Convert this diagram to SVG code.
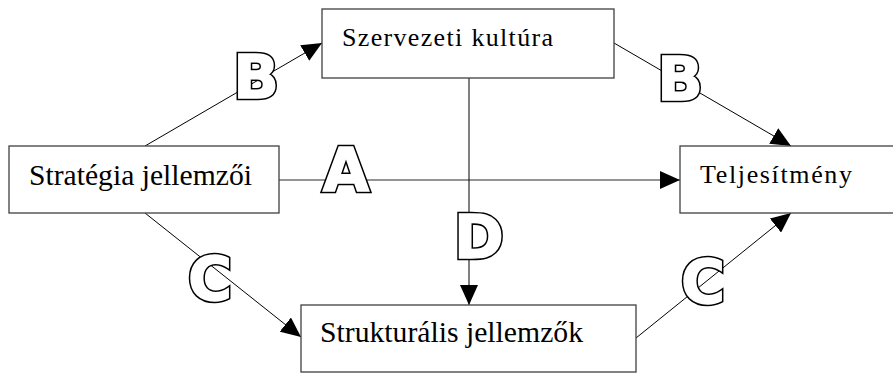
<svg xmlns="http://www.w3.org/2000/svg" width="893" height="374" viewBox="0 0 893 374">
<style>
.box{fill:#fff;stroke:#404040;stroke-width:1.3}
.lbl{font-family:"Liberation Serif","Times New Roman",serif;fill:#000}
.conn{stroke:#000;stroke-width:1;fill:none}
.letter{font-family:"DejaVu Sans","Liberation Sans",sans-serif;font-weight:bold;font-size:60px;text-anchor:middle;stroke-linejoin:miter}
.outer{fill:#000;stroke:#000;stroke-width:4.5}
.inner{fill:#fff;stroke:#fff;stroke-width:1.4}
</style>
<defs>
<marker id="arr" markerUnits="userSpaceOnUse" markerWidth="20" markerHeight="18" viewBox="0 0 20 18" refX="20" refY="9" orient="auto">
<path d="M0,0 L20,9 L0,18 Z" fill="#000"/>
</marker>
</defs>
<g id="connectors">
<line class="conn" x1="145" y1="146" x2="322" y2="43" marker-end="url(#arr)"/>
<line class="conn" x1="614" y1="43" x2="791" y2="146" marker-end="url(#arr)"/>
<line class="conn" x1="279" y1="180" x2="680" y2="180" style="stroke:#707070;stroke-width:1.6" marker-end="url(#arr)"/>
<line class="conn" x1="145" y1="213" x2="301" y2="337" marker-end="url(#arr)"/>
<line class="conn" x1="636" y1="338" x2="791" y2="213" marker-end="url(#arr)"/>
<line class="conn" x1="469" y1="78" x2="469" y2="305" marker-end="url(#arr)"/>
</g>
<g id="szervezeti">
<rect class="box" x="322" y="9" width="292" height="69"/>
<text class="lbl" x="342" y="46" font-size="26" textLength="211" lengthAdjust="spacing">Szervezeti kultúra</text>
</g>
<g id="strategia">
<rect class="box" x="9" y="146" width="270" height="67"/>
<text class="lbl" x="29" y="185" font-size="28.5" textLength="223" lengthAdjust="spacingAndGlyphs">Stratégia jellemzői</text>
</g>
<g id="teljesitmeny">
<rect class="box" x="680" y="146" width="230" height="67"/>
<text class="lbl" x="700" y="183" font-size="26" textLength="152" lengthAdjust="spacing">Teljesítmény</text>
</g>
<g id="strukturalis">
<rect class="box" x="301" y="305" width="335" height="67"/>
<text class="lbl" x="320" y="342" font-size="29.5" textLength="263" lengthAdjust="spacingAndGlyphs">Strukturális jellemzők</text>
</g>
<g id="letters">
<text class="letter outer" x="256" y="98">B</text>
<text class="letter inner" x="256" y="98">B</text>
<text class="letter outer" x="680" y="100">B</text>
<text class="letter inner" x="680" y="100">B</text>
<text class="letter outer" x="346" y="191">A</text>
<text class="letter inner" x="346" y="191">A</text>
<text class="letter outer" x="210" y="300">C</text>
<text class="letter inner" x="210" y="300">C</text>
<text class="letter outer" x="703" y="303">C</text>
<text class="letter inner" x="703" y="303">C</text>
<text class="letter outer" x="479" y="258">D</text>
<text class="letter inner" x="479" y="258">D</text>
</g>
</svg>
